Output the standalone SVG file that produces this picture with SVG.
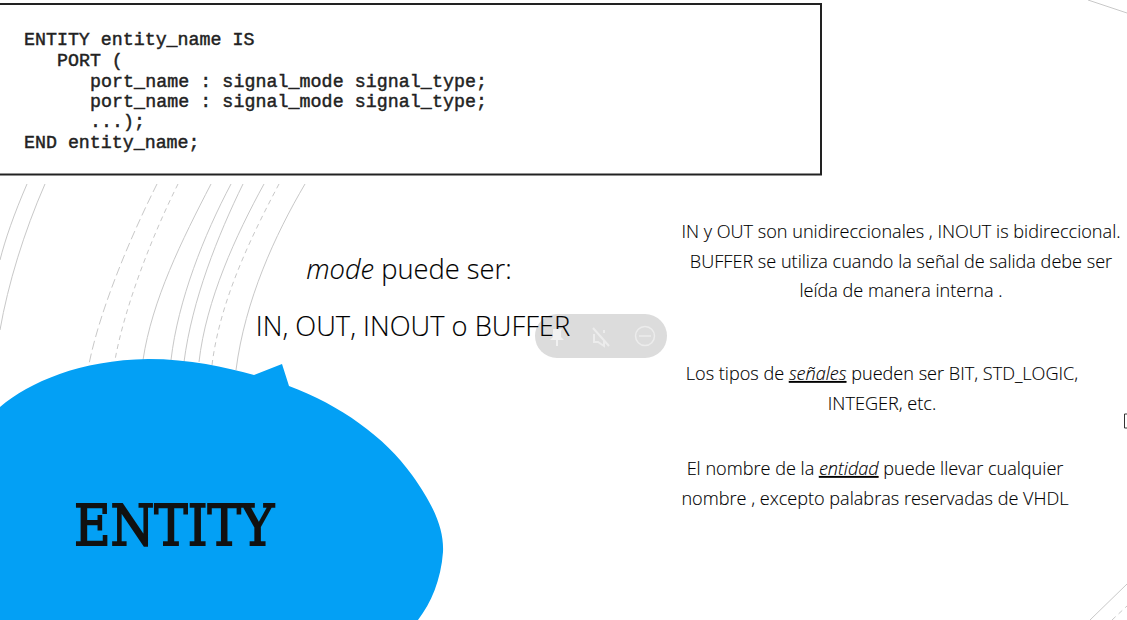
<svg xmlns="http://www.w3.org/2000/svg" width="1127" height="620" viewBox="0 0 1127 620">
<style>
.code{font-family:"Liberation Mono",monospace;font-size:18.3px;font-weight:400;fill:#222;stroke:#222;stroke-width:.45;white-space:pre}
.t{font-family:"Open Sans","Noto Sans",sans-serif;font-weight:300;fill:#000;stroke:#000;stroke-width:.12;text-anchor:middle}
.s{font-size:18.1px}
.b{font-size:27.300px}
.arc{fill:none;stroke:#c8c8c8;stroke-width:1}
.d1{stroke-dasharray:9 4}
.d2{stroke-dasharray:5 4}
</style>
<rect width="1127" height="620" fill="#fff"/>
<g id="deco">
<path class="arc" d="M27 184C14 214 5 240 0 260"/>
<path class="arc" d="M45 184C24 232 8 284 0 330"/>
<path class="arc d1" d="M157 184C129 240 100 310 89 364"/>
<path class="arc d2" d="M178 184C150 240 124 310 115 360"/>
<path class="arc" d="M211 184C182 240 152 300 143 360"/>
<path class="arc" d="M231 184C204 235 178 300 171 360"/>
<path class="arc" d="M243 184C218 235 192 300 184 362"/>
<path class="arc" d="M264 184C236 235 206 300 199 362"/>
<path class="arc d2" d="M279 184C252 235 220 300 212 365"/>
<path class="arc" d="M305 184C275 235 245 300 236 370"/>
<path class="arc" d="M1088 0L1127 13"/>
<path class="arc" d="M1090 620L1127 584"/>
<path class="arc d2" d="M1112 620L1127 606"/>
</g>
<g id="code-box">
<rect x="-2" y="4" width="823" height="170.500" fill="#fff" stroke="#222" stroke-width="2"/>
<text class="code" x="24" y="45">ENTITY entity_name IS</text>
<text class="code" x="57" y="66">PORT (</text>
<text class="code" x="90" y="87" textLength="397">port_name : signal_mode signal_type;</text>
<text class="code" x="90" y="107" textLength="397">port_name : signal_mode signal_type;</text>
<text class="code" x="90" y="127">...);</text>
<text class="code" x="24" y="148">END entity_name;</text>
</g>
<g id="entity">
<path fill="#03a0f5" d="M0 407C30 382 80 360 148 359C190 359 225 367 254 375L282 364L289 386C340 405 385 437 412 475C435 507 444 530 443 552C441 580 431 603 418 620L0 620Z"/>
<text x="74" y="545" font-family="'DejaVu Serif',serif" font-size="56" fill="#111" stroke="#111" stroke-width="1.800" textLength="200" lengthAdjust="spacingAndGlyphs">ENTITY</text>
</g>
<rect id="player-bar" x="535" y="314" width="132" height="44" rx="22" fill="#dcdcdc"/>
<g id="mode">
<text class="t b" x="409" y="279"><tspan font-style="italic" font-weight="300">mode</tspan> puede ser:</text>
<text class="t b" x="413" y="336">IN, OUT, INOUT o BUFFER</text>
</g>
<g id="notes">
<text class="t s" x="901" y="238">IN y OUT son unidireccionales , INOUT is bidireccional.</text>
<text class="t s" x="901" y="268">BUFFER se utiliza cuando la señal de salida debe ser</text>
<text class="t s" x="901" y="297">leída de manera interna .</text>
<text class="t s" x="882" y="380">Los tipos de <tspan font-style="italic" text-decoration="underline">señales</tspan> pueden ser BIT, STD_LOGIC,</text>
<text class="t s" x="882" y="410">INTEGER, etc.</text>
<text class="t s" x="875" y="475">El nombre de la <tspan font-style="italic" text-decoration="underline">entidad</tspan> puede llevar cualquier</text>
<text class="t s" x="875" y="505">nombre , excepto palabras reservadas de VHDL</text>
</g>
<g id="player-icons">
<path d="M553 329h9l-1 2v6l3 3h-6v6h-2v-6h-6l3-3v-6z" fill="#f1f1f1"/>
<path d="M593 328l16 18M594 334v8h4l6 4v-6M604 330v3" fill="none" stroke="#ececec" stroke-width="2"/>
<circle cx="645" cy="336" r="9.500" fill="none" stroke="#ececec" stroke-width="1.500"/>
<path d="M639 336h12" stroke="#ececec" stroke-width="1.500"/>
</g>
<path id="edge-mark" d="M1127 414h-2.500v14h2.500" fill="none" stroke="#333" stroke-width="1"/>
</svg>
